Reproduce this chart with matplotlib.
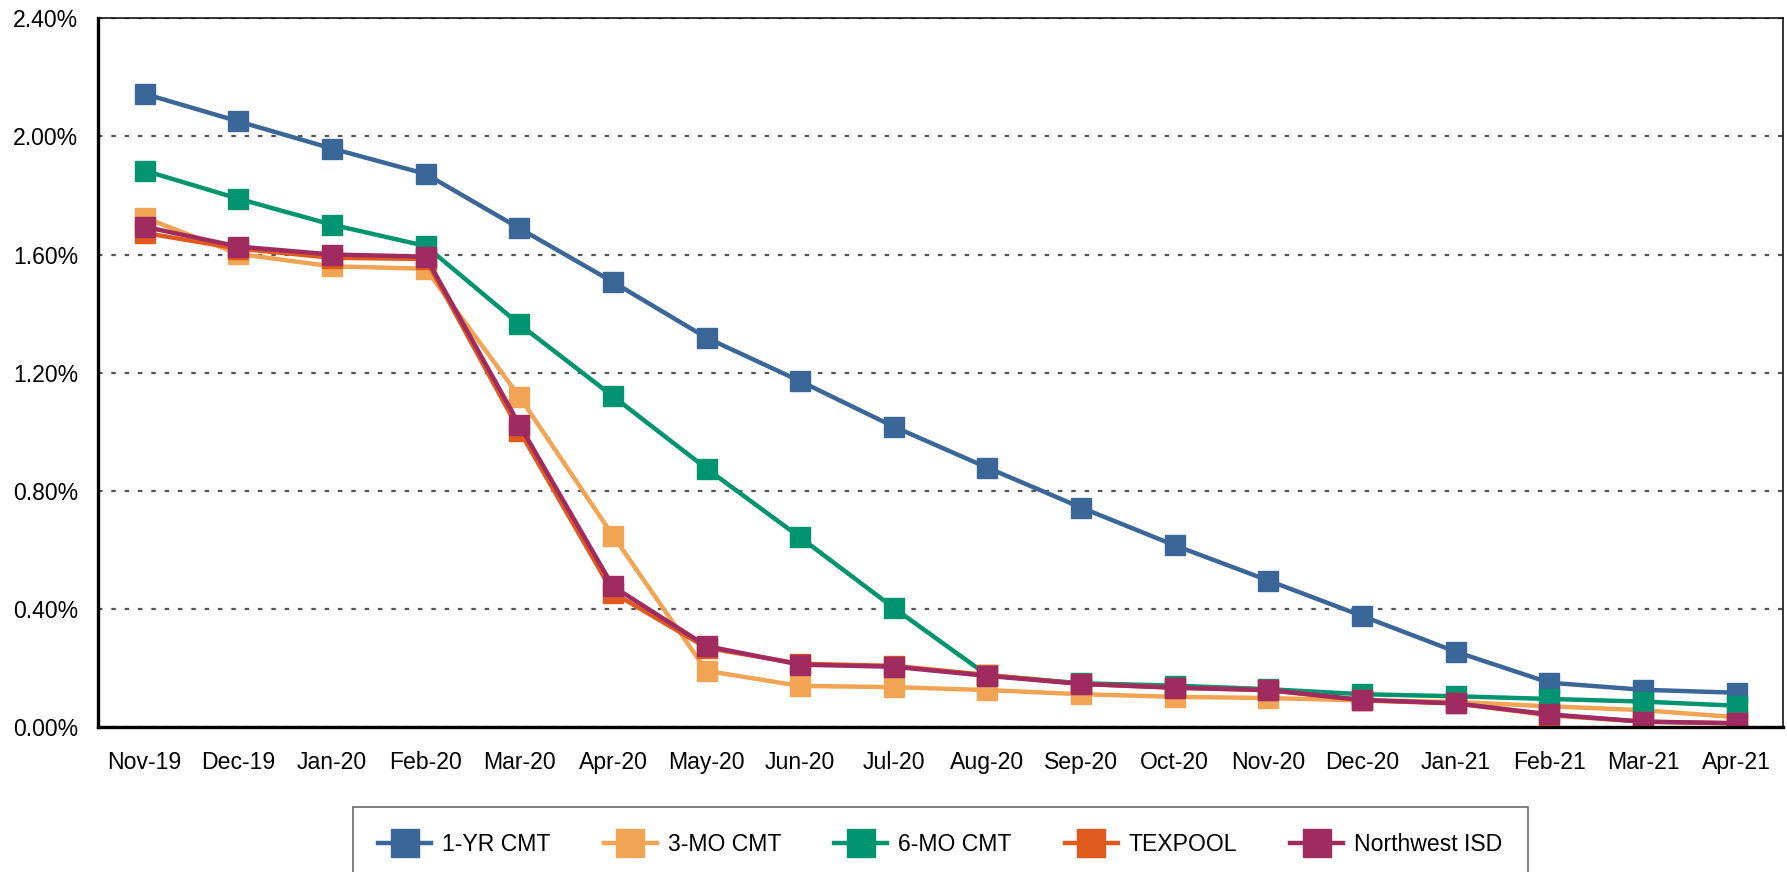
import matplotlib
matplotlib.use('Agg')
import matplotlib.pyplot as plt

plt.rcParams['font.family'] = ['Liberation Sans', 'DejaVu Sans']

# monthly yields, in percent
months = ['Nov-19', 'Dec-19', 'Jan-20', 'Feb-20', 'Mar-20', 'Apr-20', 'May-20', 'Jun-20', 'Jul-20',
          'Aug-20', 'Sep-20', 'Oct-20', 'Nov-20', 'Dec-20', 'Jan-21', 'Feb-21', 'Mar-21', 'Apr-21']
yr1_cmt = [2.144, 2.051, 1.959, 1.873, 1.689, 1.507, 1.318, 1.171, 1.017,
           0.878, 0.743, 0.615, 0.496, 0.376, 0.255, 0.150, 0.126, 0.116]
mo3_cmt = [1.725, 1.602, 1.560, 1.552, 1.119, 0.648, 0.190, 0.139, 0.135,
           0.125, 0.111, 0.102, 0.098, 0.090, 0.085, 0.070, 0.057, 0.033]
mo6_cmt = [1.884, 1.789, 1.701, 1.629, 1.364, 1.120, 0.875, 0.642, 0.403,
           0.175, 0.148, 0.140, 0.128, 0.111, 0.104, 0.095, 0.086, 0.072]
texpool = [1.673, 1.620, 1.589, 1.585, 1.004, 0.455, 0.268, 0.214, 0.207,
           0.176, 0.146, 0.133, 0.125, 0.090, 0.080, 0.040, 0.018, 0.012]
nisd = [1.694, 1.627, 1.600, 1.593, 1.024, 0.476, 0.274, 0.211, 0.204,
        0.173, 0.146, 0.133, 0.125, 0.092, 0.080, 0.043, 0.018, 0.013]
y_ticks = [0.0, 0.4, 0.8, 1.2, 1.6, 2.0, 2.4]

series = [
    ('1-YR CMT', yr1_cmt, '#3A6698'),
    ('3-MO CMT', mo3_cmt, '#F0A454'),
    ('6-MO CMT', mo6_cmt, '#009470'),
    ('TEXPOOL', texpool, '#E05A1E'),
    ('Northwest ISD', nisd, '#A02B60'),
]

fig = plt.figure(figsize=(17.87, 8.72), dpi=100)
ax = fig.add_axes([0.0548, 0.1663, 0.9432, 0.8127])

x = list(range(len(months)))
for name, vals, col in series:
    ax.plot(x, vals, color=col, lw=3.2, marker='s', markersize=15, label=name)

ax.set_xlim(-0.5, len(months) - 0.5)
ax.set_ylim(0, 2.4)
ax.set_yticks(y_ticks)
ax.set_yticklabels(['%.2f%%' % v for v in y_ticks], fontsize=16.6)
ax.set_xticks(x)
ax.set_xticklabels(months, fontsize=16.6)
ax.tick_params(axis='both', length=0)
ax.tick_params(axis='y', pad=14)
ax.tick_params(axis='x', pad=17)

ax.yaxis.grid(True, linestyle=(0, (2, 4)), color='#555555', lw=1.6)
ax.set_axisbelow(True)

for side in ['left', 'bottom']:
    ax.spines[side].set_linewidth(2.4)
for side in ['top', 'right']:
    ax.spines[side].set_linewidth(1.1)

# legend box runs slightly past the bottom edge, as in the original
leg = fig.legend(loc='center', bbox_to_anchor=(0.5263, 0.032), ncol=5, fontsize=16.6,
                 frameon=True, fancybox=False, edgecolor='#444444', markerscale=1.3,
                 handlelength=2.3, columnspacing=2.3, borderpad=1.1, handletextpad=0.48,
                 borderaxespad=0)
leg.get_frame().set_linewidth(1.2)

fig.savefig('out.png', dpi=100)
